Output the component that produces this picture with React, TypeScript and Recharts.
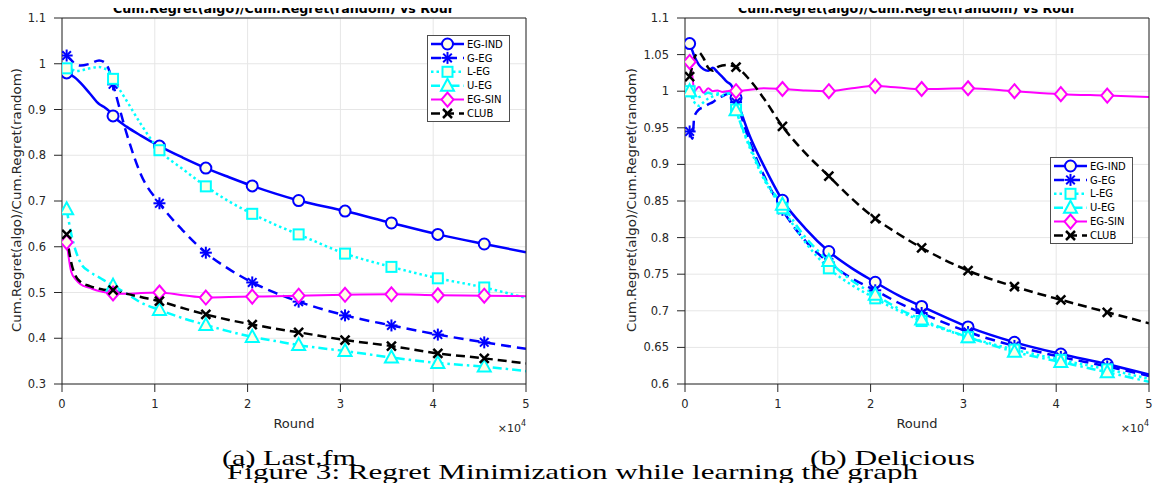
import React from 'react';
import { LineChart, Line, XAxis, YAxis, CartesianGrid, Legend } from 'recharts';

// rounds, in units of 10^4
const roundsLastfm = [0.05, 0.1, 0.15, 0.2, 0.3, 0.4, 0.45, 0.5, 0.55, 0.7, 0.85, 1.05, 1.3, 1.55, 1.8, 2.05, 2.3, 2.55, 3.05, 3.55, 4.05, 4.55, 5.0];
const lastfmEgInd = [0.98, 0.975, 0.968, 0.958, 0.935, 0.912, 0.906, 0.898, 0.886, 0.862, 0.843, 0.82, 0.795, 0.772, 0.752, 0.733, 0.716, 0.701, 0.678, 0.652, 0.627, 0.606, 0.588];
const lastfmGEg = [1.018, 1.008, 0.998, 0.996, 1.0, 1.007, 1.004, 0.99, 0.955, 0.845, 0.758, 0.695, 0.636, 0.587, 0.551, 0.522, 0.499, 0.48, 0.45, 0.428, 0.408, 0.391, 0.377];
const lastfmLEg = [0.99, 0.988, 0.984, 0.985, 0.99, 0.993, 0.99, 0.985, 0.967, 0.918, 0.868, 0.811, 0.77, 0.732, 0.699, 0.672, 0.648, 0.627, 0.585, 0.556, 0.531, 0.511, 0.488];
const lastfmUEg = [0.682, 0.628, 0.59, 0.565, 0.545, 0.533, 0.527, 0.521, 0.515, 0.497, 0.478, 0.462, 0.444, 0.429, 0.415, 0.403, 0.394, 0.385, 0.372, 0.358, 0.346, 0.338, 0.328];
const lastfmEgSin = [0.61, 0.545, 0.528, 0.518, 0.51, 0.503, 0.501, 0.499, 0.498, 0.497, 0.499, 0.5, 0.494, 0.489, 0.49, 0.491, 0.492, 0.493, 0.495, 0.496, 0.494, 0.493, 0.492];
const lastfmClub = [0.627, 0.565, 0.535, 0.523, 0.514, 0.508, 0.506, 0.505, 0.505, 0.497, 0.49, 0.481, 0.466, 0.452, 0.44, 0.43, 0.421, 0.413, 0.396, 0.383, 0.367, 0.356, 0.345];

const roundsDelicious = [0.05, 0.08, 0.1, 0.15, 0.2, 0.25, 0.3, 0.35, 0.4, 0.45, 0.5, 0.55, 0.7, 0.85, 1.05, 1.3, 1.55, 1.8, 2.05, 2.3, 2.55, 3.05, 3.55, 4.05, 4.55, 5.0];
const deliciousEgInd = [1.065, 1.055, 1.048, 1.036, 1.03, 1.028, 1.032, 1.026, 1.02, 1.013, 1.008, 0.991, 0.938, 0.898, 0.851, 0.812, 0.781, 0.758, 0.739, 0.721, 0.706, 0.678, 0.657, 0.641, 0.627, 0.613];
const deliciousGEg = [0.945, 0.935, 0.965, 0.975, 0.978, 0.982, 0.985, 0.99, 0.993, 0.996, 0.997, 0.985, 0.93, 0.885, 0.838, 0.795, 0.766, 0.744, 0.728, 0.711, 0.697, 0.671, 0.652, 0.637, 0.624, 0.611];
const deliciousLEg = [1.0, 0.99, 0.985, 0.98, 0.985, 0.99, 0.993, 0.995, 0.994, 0.996, 0.997, 0.975, 0.922, 0.88, 0.84, 0.793, 0.758, 0.735, 0.717, 0.7, 0.686, 0.664, 0.647, 0.633, 0.62, 0.607];
const deliciousUEg = [1.0, 0.995, 0.99, 0.992, 0.995, 0.998, 0.996, 0.997, 0.998, 0.999, 0.996, 0.974, 0.925, 0.882, 0.845, 0.8, 0.768, 0.741, 0.722, 0.703, 0.688, 0.664, 0.644, 0.63, 0.616, 0.603];
const deliciousEgSin = [1.04, 1.02, 1.0, 1.006, 0.998, 1.004, 1.0, 1.001, 0.999, 1.0, 1.001, 1.0, 1.002, 1.004, 1.003, 1.001, 1.0, 1.004, 1.007, 1.005, 1.003, 1.004, 1.0, 0.996, 0.994, 0.992];
const deliciousClub = [1.02, 1.035, 1.045, 1.053, 1.045, 1.032, 1.028, 1.033, 1.035, 1.036, 1.035, 1.033, 1.015, 0.99, 0.952, 0.915, 0.884, 0.853, 0.826, 0.805, 0.786, 0.755, 0.733, 0.715, 0.698, 0.683];

const markerRounds = [0.05, 0.55, 1.05, 1.55, 2.05, 2.55, 3.05, 3.55, 4.05, 4.55];
const xTicks = [0, 1, 2, 3, 4, 5];
const yTicksLastfm = [0.3, 0.4, 0.5, 0.6, 0.7, 0.8, 0.9, 1, 1.1];
const yTicksDelicious = [0.6, 0.65, 0.7, 0.75, 0.8, 0.85, 0.9, 0.95, 1, 1.05, 1.1];

const FONT = '"DejaVu Sans", sans-serif';
const SERIF = '"Liberation Serif", "DejaVu Serif", serif';
const AXIS = '#262626';
const FILL = '#ffffe6';

type Kind = 'circle' | 'star' | 'square' | 'triangle' | 'diamond' | 'cross';
const SERIES: { key: string; name: string; color: string; dash?: string; width: number; marker: Kind }[] = [
  { key: 'egInd', name: 'EG-IND', color: '#0000ff', width: 2.5, marker: 'circle' },
  { key: 'gEg', name: 'G-EG', color: '#0000ff', dash: '10 6', width: 2.5, marker: 'star' },
  { key: 'lEg', name: 'L-EG', color: '#00ffff', dash: '2.5 3', width: 2.5, marker: 'square' },
  { key: 'uEg', name: 'U-EG', color: '#00ffff', dash: '9 4 2.5 4', width: 2.5, marker: 'triangle' },
  { key: 'egSin', name: 'EG-SIN', color: '#ff00ff', width: 2, marker: 'diamond' },
  { key: 'club', name: 'CLUB', color: '#000000', dash: '9 5', width: 2.5, marker: 'cross' },
];

const buildTable = (xs: number[], cols: number[][]) =>
  xs.map((x, i) => ({
    x,
    mk: markerRounds.includes(x),
    egInd: cols[0][i],
    gEg: cols[1][i],
    lEg: cols[2][i],
    uEg: cols[3][i],
    egSin: cols[4][i],
    club: cols[5][i],
  }));

const lastfmData = buildTable(roundsLastfm, [lastfmEgInd, lastfmGEg, lastfmLEg, lastfmUEg, lastfmEgSin, lastfmClub]);
const deliciousData = buildTable(roundsDelicious, [deliciousEgInd, deliciousGEg, deliciousLEg, deliciousUEg, deliciousEgSin, deliciousClub]);

const Marker = ({ kind, x, y, color }: { kind: Kind; x: number; y: number; color: string }) => {
  switch (kind) {
    case 'circle':
      return <circle cx={x} cy={y} r={5.5} fill={FILL} stroke={color} strokeWidth={2} />;
    case 'star':
      return (
        <g stroke={color} strokeWidth={2}>
          <line x1={x - 6} y1={y} x2={x + 6} y2={y} />
          <line x1={x} y1={y - 6} x2={x} y2={y + 6} />
          <line x1={x - 4.3} y1={y - 4.3} x2={x + 4.3} y2={y + 4.3} />
          <line x1={x - 4.3} y1={y + 4.3} x2={x + 4.3} y2={y - 4.3} />
        </g>
      );
    case 'square':
      return <rect x={x - 5} y={y - 5} width={10} height={10} fill={FILL} stroke={color} strokeWidth={2} />;
    case 'triangle':
      return <polygon points={`${x},${y - 7} ${x + 6.5},${y + 5} ${x - 6.5},${y + 5}`} fill={FILL} stroke={color} strokeWidth={2} />;
    case 'diamond':
      return <polygon points={`${x},${y - 7} ${x + 6},${y} ${x},${y + 7} ${x - 6},${y}`} fill={FILL} stroke={color} strokeWidth={2} />;
    default:
      return (
        <g stroke={color} strokeWidth={2.5}>
          <line x1={x - 4.5} y1={y - 4.5} x2={x + 4.5} y2={y + 4.5} />
          <line x1={x - 4.5} y1={y + 4.5} x2={x + 4.5} y2={y - 4.5} />
        </g>
      );
  }
};

const LegendBox = () => (
  <svg width={83} height={87} style={{ display: 'block' }}>
    <rect x={0.5} y={0.5} width={82} height={86} fill="#fff" stroke="#4d4d4d" strokeWidth={1} />
    {SERIES.map((s, i) => {
      const y = 9 + i * 13.9;
      return (
        <g key={s.key}>
          <line x1={4} y1={y} x2={37} y2={y} stroke={s.color} strokeWidth={s.width} strokeDasharray={s.dash} />
          <Marker kind={s.marker} x={20.5} y={y} color={s.color} />
          <text x={40} y={y + 3.6} fontSize={10} fontFamily={FONT} fill="#000">{s.name}</text>
        </g>
      );
    })}
  </svg>
);

const fmt = (v: number) => String(Number(v.toFixed(2)));

const Panel = ({ data, yTicks, width, margin, legendLeft, legendTop }: any) => {
  const yDomain = [yTicks[0], yTicks[yTicks.length - 1]];
  const tickStyle = { fill: AXIS, fontSize: 11.5, fontFamily: FONT };
  return (
    <LineChart width={width} height={440} data={data} margin={margin}>
      <CartesianGrid stroke="#e6e6e6" strokeWidth={1} horizontalValues={yTicks} verticalValues={xTicks} />
      <XAxis dataKey="x" type="number" domain={[0, 5]} ticks={xTicks} allowDataOverflow height={30}
        tick={tickStyle} tickSize={8} tickMargin={8} stroke={AXIS} tickLine={{ stroke: AXIS }} axisLine={{ stroke: AXIS }} />
      <XAxis xAxisId="top" orientation="top" dataKey="x" type="number" domain={[0, 5]} ticks={xTicks} allowDataOverflow height={10}
        tick={false} tickSize={8} stroke={AXIS} />
      <YAxis type="number" domain={yDomain} ticks={yTicks} allowDataOverflow width={50} tickFormatter={fmt}
        tick={tickStyle} tickSize={8} tickMargin={8} stroke={AXIS} tickLine={{ stroke: AXIS }} axisLine={{ stroke: AXIS }} />
      <YAxis yAxisId="r" orientation="right" type="number" domain={yDomain} ticks={yTicks} allowDataOverflow width={10}
        tick={false} tickSize={8} stroke={AXIS} />
      <Line xAxisId="top" yAxisId="r" dataKey="egInd" stroke="none" dot={false} activeDot={false} legendType="none" isAnimationActive={false} />
      {SERIES.map((s) => (
        <Line
          key={s.key}
          type="monotone"
          dataKey={s.key}
          name={s.name}
          stroke={s.color}
          strokeWidth={s.width}
          strokeDasharray={s.dash}
          isAnimationActive={false}
          activeDot={false}
          dot={(p: any) =>
            p.payload.mk ? (
              <Marker key={`${s.key}-${p.index}`} kind={s.marker} x={p.cx} y={p.cy} color={s.color} />
            ) : (
              <g key={`${s.key}-${p.index}`} />
            )
          }
        />
      ))}
      <Legend layout="vertical" align="center" verticalAlign="middle" width={83} height={87}
        wrapperStyle={{ left: legendLeft, top: legendTop }} content={() => <LegendBox />} />
    </LineChart>
  );
};

const TITLE = 'Cum.Regret(algo)/Cum.Regret(random) vs Rour';
const YLABEL = 'Cum.Regret(algo)/Cum.Regret(random)';

export default function App() {
  return (
    <div style={{ position: 'relative', width: 1163, height: 491, margin: -8, background: '#fff', overflow: 'hidden' }}>
      <div style={{ position: 'absolute', left: 0, top: 0 }}>
        <Panel data={lastfmData} yTicks={yTicksLastfm} width={580}
          margin={{ top: 8, right: 44, bottom: 26, left: 12 }} legendLeft={427} legendTop={35} />
      </div>
      <div style={{ position: 'absolute', left: 580, top: 0 }}>
        <Panel data={deliciousData} yTicks={yTicksDelicious} width={583}
          margin={{ top: 8, right: 4, bottom: 26, left: 55 }} legendLeft={470} legendTop={157} />
      </div>
      <svg width={1163} height={491} style={{ position: 'absolute', left: 0, top: 0, pointerEvents: 'none' }}>
        <g fontFamily={FONT} fill="#000">
          <text x={113} y={13} fontSize={12.5} fontWeight="bold" textLength={341} lengthAdjust="spacingAndGlyphs">{TITLE}</text>
          <text x={738} y={13} fontSize={12.5} fontWeight="bold" textLength={338} lengthAdjust="spacingAndGlyphs">{TITLE}</text>
          <text transform="translate(21,200) rotate(-90)" textAnchor="middle" fontSize={12.5} fill={AXIS}
            textLength={264} lengthAdjust="spacingAndGlyphs">{YLABEL}</text>
          <text transform="translate(636,200) rotate(-90)" textAnchor="middle" fontSize={12.5} fill={AXIS}
            textLength={264} lengthAdjust="spacingAndGlyphs">{YLABEL}</text>
          <text x={294} y={428} textAnchor="middle" fontSize={13} fill={AXIS}>Round</text>
          <text x={917} y={428} textAnchor="middle" fontSize={13} fill={AXIS}>Round</text>
          <text x={526} y={432} textAnchor="end" fontSize={11} fill={AXIS}>×10<tspan dy={-6} fontSize={8}>4</tspan></text>
          <text x={1149} y={432} textAnchor="end" fontSize={11} fill={AXIS}>×10<tspan dy={-6} fontSize={8}>4</tspan></text>
        </g>
        <g fontFamily={SERIF} fill="#000" fontSize={22}>
          <text x={222} y={465} textLength={134} lengthAdjust="spacingAndGlyphs">(a) Last.fm</text>
          <text x={810} y={465} textLength={165} lengthAdjust="spacingAndGlyphs">(b) Delicious</text>
          <text x={227} y={479} textLength={691} lengthAdjust="spacingAndGlyphs">Figure 3: Regret Minimization while learning the graph</text>
        </g>
      </svg>
    </div>
  );
}
